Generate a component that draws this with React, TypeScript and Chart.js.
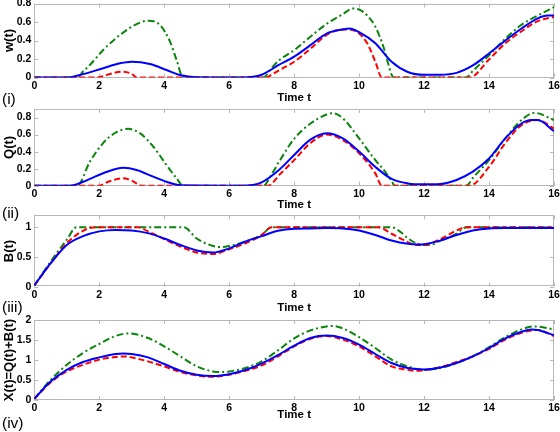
import React, { useEffect, useRef } from "react";
import { Chart, registerables } from "chart.js";
Chart.register(...registerables);

const FONT = "'Liberation Sans', Arial, Helvetica, sans-serif";

const X_TICKS = [0, 2, 4, 6, 8, 10, 12, 14, 16];
const W_TICKS = [0, 0.2, 0.4, 0.6, 0.8];
const Q_TICKS = [0, 0.2, 0.4, 0.6, 0.8];
const B_TICKS = [0, 0.5, 1];
const X_SUM_TICKS = [0, 0.5, 1, 1.5, 2];

// Panel (i): w(t)
const wGreenT = [0, 1.32, 1.5, 1.71, 2.12, 2.4, 2.64, 3.15, 3.51, 3.87, 4.18, 4.38, 4.58, 7.05, 7.3, 7.55, 8, 8.5, 9, 9.5, 9.8, 10, 10.25, 10.5, 10.75, 11, 11.05, 13.3, 13.5, 14, 14.5, 15, 15.5, 16];
const wGreenY = [0, 0, 0.065, 0.135, 0.297, 0.39, 0.46, 0.578, 0.614, 0.567, 0.387, 0.19, 0, 0, 0.1, 0.19, 0.295, 0.44, 0.58, 0.685, 0.745, 0.735, 0.67, 0.55, 0.33, 0.03, 0, 0, 0.07, 0.24, 0.42, 0.57, 0.67, 0.76];
const wBlueT = [0, 1.05, 1.41, 2.12, 2.64, 3.0, 3.56, 4.07, 4.48, 5, 6.4, 7, 7.5, 8, 8.5, 9, 9.5, 9.7, 10, 10.5, 11, 11.5, 12, 12.5, 13, 13.5, 14, 14.5, 15, 15.5, 15.8, 16];
const wBlueY = [0, 0, 0.027, 0.1, 0.153, 0.17, 0.146, 0.081, 0.027, 0.003, 0, 0.03, 0.13, 0.225, 0.35, 0.475, 0.52, 0.53, 0.49, 0.37, 0.17, 0.06, 0.03, 0.03, 0.05, 0.13, 0.26, 0.4, 0.53, 0.64, 0.67, 0.67];
const wRedT = [0, 1.95, 2.3, 2.7, 3.0, 3.15, 7.15, 7.3, 7.55, 8, 8.5, 9, 9.5, 9.7, 10, 10.25, 10.5, 10.7, 13.4, 14, 14.5, 15, 15.5, 16];
const wRedY = [0, 0, 0.035, 0.063, 0.04, 0, 0, 0.03, 0.08, 0.17, 0.31, 0.46, 0.52, 0.52, 0.475, 0.37, 0.17, 0, 0, 0.195, 0.37, 0.5, 0.61, 0.655];

// Panel (ii): Q(t)
const qGreenT = [0, 1.32, 1.71, 2.12, 2.53, 2.89, 3.25, 3.66, 4.07, 4.38, 4.58, 7.05, 7.3, 7.55, 8, 8.5, 9, 9.2, 9.5, 10, 10.5, 10.8, 11, 11.1, 13.3, 13.5, 14, 14.5, 15, 15.4, 16];
const qGreenY = [0, 0, 0.28, 0.5, 0.628, 0.667, 0.616, 0.46, 0.243, 0.087, 0, 0, 0.13, 0.29, 0.55, 0.73, 0.835, 0.85, 0.79, 0.555, 0.3, 0.165, 0.055, 0, 0, 0.09, 0.3, 0.555, 0.77, 0.855, 0.77];
const qBlueT = [0, 1.1, 1.51, 2.12, 2.74, 3.15, 3.66, 4.07, 4.5, 6.4, 7, 7.55, 8, 8.5, 9, 9.5, 10, 10.5, 11, 11.5, 12, 12.5, 13, 13.5, 14, 14.5, 15, 15.3, 15.5, 16];
const qBlueY = [0, 0, 0.047, 0.146, 0.21, 0.185, 0.106, 0.047, 0.005, 0, 0.04, 0.19, 0.36, 0.54, 0.615, 0.555, 0.4, 0.22, 0.08, 0.027, 0.016, 0.02, 0.067, 0.165, 0.32, 0.555, 0.73, 0.77, 0.77, 0.64];
const qRedT = [0, 1.97, 2.3, 2.74, 3.0, 3.3, 7.2, 7.55, 8, 8.5, 9, 9.5, 10, 10.5, 10.7, 13.4, 14, 14.5, 15, 15.5, 16];
const qRedY = [0, 0, 0.05, 0.087, 0.06, 0, 0, 0.13, 0.3, 0.5, 0.6, 0.535, 0.38, 0.145, 0, 0, 0.22, 0.5, 0.71, 0.77, 0.67];

// Panel (iii): B(t)
const bGreenT = [0, 0.5, 1, 1.3, 4.6, 5, 5.5, 5.75, 6, 6.5, 7, 7.3, 11.0, 11.25, 11.5, 11.75, 12, 12.25, 12.5, 13, 13.3, 16];
const bGreenY = [0.02, 0.42, 0.79, 1, 1, 0.81, 0.685, 0.665, 0.685, 0.76, 0.87, 1, 1, 0.93, 0.815, 0.73, 0.7, 0.71, 0.775, 0.89, 1, 1];
const bBlueT = [0, 0.5, 1, 1.5, 2, 2.5, 3, 3.5, 4, 4.5, 5, 5.5, 6, 6.5, 7, 7.5, 8, 8.5, 9, 9.5, 10, 10.5, 11, 11.5, 11.8, 12, 12.5, 13, 13.5, 14, 14.5, 15, 16];
const bBlueY = [0.02, 0.39, 0.7, 0.85, 0.93, 0.955, 0.945, 0.9, 0.81, 0.7, 0.61, 0.575, 0.645, 0.76, 0.85, 0.94, 0.975, 0.98, 0.985, 0.98, 0.945, 0.87, 0.775, 0.72, 0.71, 0.715, 0.775, 0.87, 0.945, 0.98, 0.985, 0.985, 0.985];
const bRedT = [0, 0.5, 1, 1.5, 1.9, 3.2, 3.5, 4, 4.5, 5, 5.5, 6, 6.5, 7, 7.3, 10.6, 11, 11.5, 11.75, 12, 12.5, 13, 13.3, 16];
const bRedY = [0.02, 0.39, 0.73, 0.94, 1, 1, 0.93, 0.8, 0.675, 0.575, 0.55, 0.63, 0.73, 0.87, 1, 1, 0.89, 0.75, 0.7, 0.7, 0.8, 0.945, 1, 1];

// Panel (iv): X(t) = Q(t) + B(t)
const xGreenT = [0, 0.5, 1, 1.5, 2, 2.5, 2.9, 3.5, 4, 4.5, 5, 5.5, 5.75, 6, 6.5, 7, 7.5, 8, 8.5, 9, 9.2, 9.5, 10, 10.5, 11, 11.5, 12, 12.5, 13, 13.5, 14, 14.5, 15, 15.4, 16];
const xGreenY = [0.03, 0.5, 0.88, 1.175, 1.4, 1.6, 1.665, 1.55, 1.34, 1.09, 0.84, 0.715, 0.7, 0.715, 0.8, 0.965, 1.24, 1.54, 1.74, 1.84, 1.85, 1.79, 1.57, 1.3, 1.01, 0.84, 0.75, 0.8, 0.925, 1.09, 1.32, 1.57, 1.765, 1.84, 1.765];
const xBlueT = [0, 0.5, 1, 1.5, 2, 2.5, 2.75, 3, 3.5, 4, 4.5, 5, 5.5, 6, 6.5, 7, 7.5, 8, 8.5, 9, 9.5, 10, 10.5, 11, 11.5, 12, 12.5, 13, 13.5, 14, 14.5, 15, 15.3, 15.5, 16];
const xBlueY = [0.03, 0.46, 0.755, 0.95, 1.065, 1.15, 1.165, 1.15, 1.065, 0.9, 0.73, 0.63, 0.6, 0.645, 0.75, 0.91, 1.12, 1.36, 1.55, 1.61, 1.55, 1.385, 1.15, 0.925, 0.8, 0.765, 0.815, 0.925, 1.09, 1.3, 1.54, 1.705, 1.765, 1.75, 1.62];
const xRedT = [0, 0.5, 1, 1.5, 2, 2.5, 2.75, 3, 3.5, 4, 4.5, 5, 5.5, 6, 6.5, 7, 7.5, 8, 8.5, 9, 9.5, 10, 10.5, 11, 11.5, 11.75, 12, 12.5, 13, 13.5, 14, 14.5, 15, 15.5, 16];
const xRedY = [0.03, 0.44, 0.715, 0.88, 1.01, 1.075, 1.09, 1.065, 0.965, 0.84, 0.7, 0.615, 0.58, 0.63, 0.73, 0.865, 1.09, 1.34, 1.53, 1.6, 1.51, 1.34, 1.09, 0.84, 0.755, 0.73, 0.745, 0.82, 0.95, 1.09, 1.28, 1.51, 1.68, 1.75, 1.6];

const BLUE = "#0000ff";
const RED = "#ff0000";
const GREEN = "#0a840a";
const DASH_RED = [6, 3];
const DASH_GREEN = [7, 3, 2, 3];

type S = { t: number[]; y: number[]; color: string; dash: number[] };
type Cfg = {
  top: number; height: number; padTop: number; plotBottom: number;
  yMax: number; yTicks: number[]; yTitle: string; tag: string; tagCenter: number;
  series: S[];
};

const PANELS: Cfg[] = [
  {
    top: 0, height: 107, padTop: 3.5, plotBottom: 77.5, yMax: 0.8, yTicks: W_TICKS, yTitle: "w(t)", tag: "(i)", tagCenter: 98.5,
    series: [
      { t: wBlueT, y: wBlueY, color: BLUE, dash: [] },
      { t: wRedT, y: wRedY, color: RED, dash: DASH_RED },
      { t: wGreenT, y: wGreenY, color: GREEN, dash: DASH_GREEN },
    ],
  },
  {
    top: 101, height: 113, padTop: 8, plotBottom: 84.7, yMax: 0.9, yTicks: Q_TICKS, yTitle: "Q(t)", tag: "(ii)", tagCenter: 213,
    series: [
      { t: qBlueT, y: qBlueY, color: BLUE, dash: [] },
      { t: qRedT, y: qRedY, color: RED, dash: DASH_RED },
      { t: qGreenT, y: qGreenY, color: GREEN, dash: DASH_GREEN },
    ],
  },
  {
    top: 207, height: 110, padTop: 8.3, plotBottom: 79.7, yMax: 1.2, yTicks: B_TICKS, yTitle: "B(t)", tag: "(iii)", tagCenter: 306.5,
    series: [
      { t: bBlueT, y: bBlueY, color: BLUE, dash: [] },
      { t: bRedT, y: bRedY, color: RED, dash: DASH_RED },
      { t: bGreenT, y: bGreenY, color: GREEN, dash: DASH_GREEN },
    ],
  },
  {
    top: 312, height: 112, padTop: 8, plotBottom: 88, yMax: 2, yTicks: X_SUM_TICKS, yTitle: "X(t)=Q(t)+B(t)", tag: "(iv)", tagCenter: 422.5,
    series: [
      { t: xBlueT, y: xBlueY, color: BLUE, dash: [] },
      { t: xRedT, y: xRedY, color: RED, dash: DASH_RED },
      { t: xGreenT, y: xGreenY, color: GREEN, dash: DASH_GREEN },
    ],
  },
];

const frameTicks = {
  id: "frameTicks",
  beforeDatasetsDraw(chart: any) {
    const { ctx, chartArea: a, scales } = chart;
    ctx.save();
    ctx.strokeStyle = "#b8b8b8";
    ctx.lineWidth = 1;
    ctx.strokeRect(Math.round(a.left) + 0.5, Math.round(a.top) + 0.5, Math.round(a.right - a.left) - 1, Math.round(a.bottom - a.top) - 1);
    const L = 4;
    ctx.beginPath();
    for (const t of scales.x.ticks) {
      const px = Math.round(scales.x.getPixelForValue(t.value)) + 0.5;
      ctx.moveTo(px, a.bottom); ctx.lineTo(px, a.bottom - L);
      ctx.moveTo(px, a.top); ctx.lineTo(px, a.top + L);
    }
    for (const t of scales.y.ticks) {
      const py = Math.round(scales.y.getPixelForValue(t.value)) + 0.5;
      ctx.moveTo(a.left, py); ctx.lineTo(a.left + L, py);
      ctx.moveTo(a.right, py); ctx.lineTo(a.right - L, py);
    }
    ctx.stroke();
    ctx.restore();
  },
};

function Panel({ cfg }: { cfg: Cfg }) {
  const ref = useRef<HTMLCanvasElement>(null);
  useEffect(() => {
    const chart = new Chart(ref.current as HTMLCanvasElement, {
      type: "line",
      data: {
        datasets: cfg.series.map((s, i) => ({
          data: s.t.map((x, j) => ({ x, y: s.y[j] })),
          borderColor: s.color,
          borderWidth: 2,
          borderDash: s.dash,
          pointRadius: 0,
          fill: false,
          cubicInterpolationMode: "monotone" as const,
          order: i,
        })),
      },
      options: {
        animation: false,
        responsive: false,
        devicePixelRatio: 1,
        layout: { padding: { top: cfg.padTop, right: 6, left: 0, bottom: 0 } },
        plugins: { legend: { display: false }, tooltip: { enabled: false } },
        scales: {
          x: {
            type: "linear",
            min: 0,
            max: 16,
            grid: { display: false, drawTicks: false },
            border: { display: false },
            afterBuildTicks: (s: any) => { s.ticks = X_TICKS.map((v) => ({ value: v })); },
            afterFit: (s: any) => { s.height = cfg.height - cfg.plotBottom; s.paddingLeft = 0; s.paddingRight = 0; },
            ticks: {
              font: { family: FONT, size: 10.5, weight: "bold" },
              color: "#000",
              padding: 2,
              maxRotation: 0,
              autoSkip: false,
              callback: (v: any) => String(v),
            },
            title: {
              display: true,
              text: "Time t",
              color: "#000",
              font: { family: FONT, size: 11.5, weight: "bold" },
              padding: { top: 0, bottom: 2 },
            },
          },
          y: {
            type: "linear",
            min: 0,
            max: cfg.yMax,
            grid: { display: false, drawTicks: false },
            border: { display: false },
            afterBuildTicks: (s: any) => { s.ticks = cfg.yTicks.map((v) => ({ value: v })); },
            afterFit: (s: any) => { s.width = 34.3; s.paddingTop = 0; s.paddingBottom = 0; },
            ticks: {
              font: { family: FONT, size: 10.5, weight: "bold" },
              color: "#000",
              padding: 3,
              callback: (v: any) => String(v),
            },
            title: {
              display: true,
              text: cfg.yTitle,
              color: "#000",
              font: { family: FONT, size: 13, weight: "bold" },
              padding: { top: 2, bottom: 0 },
            },
          },
        },
      },
      plugins: [frameTicks],
    } as any);
    return () => chart.destroy();
  }, [cfg]);
  return (
    <canvas
      ref={ref}
      width={560}
      height={cfg.height}
      style={{ position: "absolute", left: 0, top: cfg.top, width: 560, height: cfg.height, display: "block" }}
    />
  );
}

export default function App() {
  return (
    <div style={{ position: "absolute", left: 0, top: 0, width: 560, height: 432, background: "#fff", overflow: "hidden" }}>
      {PANELS.map((p, i) => (
        <Panel key={i} cfg={p} />
      ))}
      {PANELS.map((p, i) => (
        <div
          key={"tag" + i}
          style={{
            position: "absolute",
            left: 2,
            top: p.tagCenter - 9,
            height: 18,
            lineHeight: "18px",
            fontFamily: FONT,
            fontSize: 15.5,
            color: "#000",
          }}
        >
          {p.tag}
        </div>
      ))}
    </div>
  );
}
